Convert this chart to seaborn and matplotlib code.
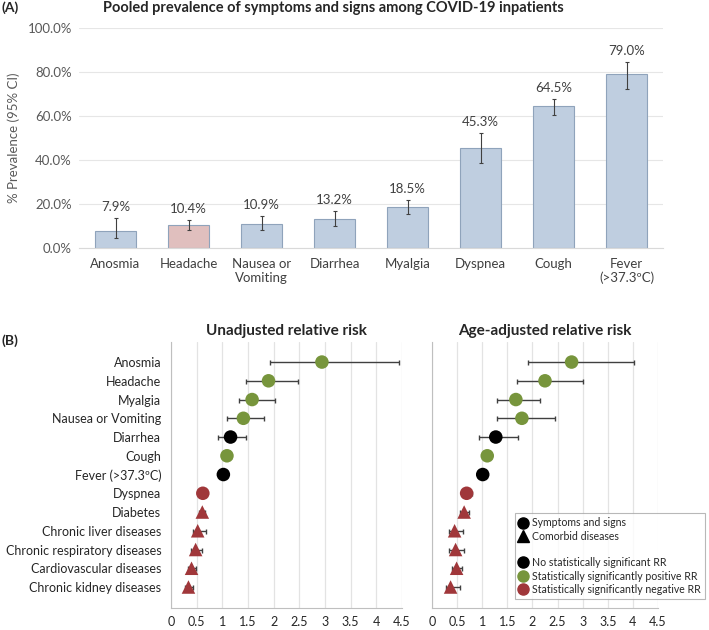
import numpy as np
import pandas as pd
import matplotlib
matplotlib.use('Agg')
import matplotlib.pyplot as plt
from matplotlib.lines import Line2D
import seaborn as sns

# ---- panel A data
sympt = ['Anosmia', 'Headache', 'Nausea or\nVomiting', 'Diarrhea', 'Myalgia',
         'Dyspnea', 'Cough', 'Fever\n(>37.3ºC)']
prev = [7.9, 10.4, 10.9, 13.2, 18.5, 45.3, 64.5, 79.0]
prev_lo = [4.4, 8.0, 8.0, 10.2, 15.5, 38.5, 60.6, 72.4]
prev_hi = [13.8, 12.9, 14.4, 16.7, 22.0, 52.3, 67.9, 84.7]
bar_cols = ['#B9CDE5', '#E6B9B8', '#B9CDE5', '#B9CDE5', '#B9CDE5',
            '#B9CDE5', '#B9CDE5', '#B9CDE5']

# ---- panel B data
rr_names = ['Anosmia', 'Headache', 'Myalgia', 'Nausea or Vomiting', 'Diarrhea', 'Cough',
            'Fever (>37.3ºC)', 'Dyspnea', 'Diabetes', 'Chronic liver diseases',
            'Chronic respiratory diseases', 'Cardiovascular diseases', 'Chronic kidney diseases']
kind = ['sym'] * 8 + ['com'] * 5
signif = ['pos', 'pos', 'pos', 'pos', 'ns', 'pos', 'ns', 'neg',
          'neg', 'neg', 'neg', 'neg', 'neg']
rr_un = [2.94, 1.90, 1.58, 1.41, 1.16, 1.09, 1.02, 0.62, 0.61, 0.52, 0.48, 0.40, 0.34]
rr_un_lo = [1.93, 1.46, 1.33, 1.09, 0.91, 1.02, 0.97, 0.57, 0.55, 0.42, 0.38, 0.33, 0.27]
rr_un_hi = [4.45, 2.47, 2.03, 1.82, 1.46, 1.16, 1.07, 0.67, 0.67, 0.68, 0.60, 0.48, 0.43]
rr_adj = [2.78, 2.25, 1.67, 1.79, 1.27, 1.10, 1.01, 0.69, 0.64, 0.45, 0.47, 0.49, 0.37]
rr_adj_lo = [1.92, 1.69, 1.30, 1.30, 0.94, 1.03, 0.95, 0.60, 0.55, 0.34, 0.34, 0.39, 0.27]
rr_adj_hi = [4.03, 3.00, 2.15, 2.45, 1.71, 1.17, 1.08, 0.80, 0.73, 0.62, 0.64, 0.60, 0.55]

col_map = {'ns': '#000000', 'pos': '#77953C', 'neg': '#A0373A'}
mark_map = {'sym': 'o', 'com': '^'}

sns.set_style('white')
plt.rcParams['font.family'] = ['Lato', 'DejaVu Sans']

fig = plt.figure(figsize=(7.09, 6.30), dpi=100)
W, H = 709, 630


def box(x0, y0, x1, y1):
    return [x0 / W, 1 - y1 / H, (x1 - x0) / W, (y1 - y0) / H]


# ---------------- panel A
axA = fig.add_axes(box(79, 28, 663, 248))
dfA = pd.DataFrame({'sym': sympt, 'prev': prev})
sns.barplot(data=dfA, x='sym', y='prev', hue='sym', palette=bar_cols, legend=False,
            width=0.57, edgecolor='#8FA3BB', linewidth=0.8, ax=axA, zorder=2)
xs = np.arange(len(sympt))
axA.errorbar(xs, prev, yerr=[np.array(prev) - np.array(prev_lo), np.array(prev_hi) - np.array(prev)],
             fmt='none', ecolor='#404040', elinewidth=0.8, capsize=1.5, capthick=0.8, zorder=3)
for x, v, h in zip(xs, prev, prev_hi):
    axA.text(x, h + 2.3, f'{v:.1f}%', ha='center', va='bottom', fontsize=9.5, color='#404040')
axA.set_ylim(0, 100)
axA.set_xlim(-0.5, len(sympt) - 0.5)
axA.set_yticks(np.arange(0, 101, 20))
axA.set_yticklabels([f'{t:.1f}%' for t in np.arange(0, 101, 20)], fontsize=9.5, color='#595959')
axA.tick_params(axis='x', labelsize=9.5, labelcolor='#404040', length=0, pad=7)
axA.tick_params(axis='y', length=0, pad=5)
axA.set_xlabel('')
axA.set_ylabel('')
axA.grid(axis='y', color='#E6E6E6', lw=0.8, zorder=0)
for s in ['top', 'right', 'left']:
    axA.spines[s].set_visible(False)
axA.spines['bottom'].set_color('#D9D9D9')
fig.text(14 / W, 1 - 138 / H, '% Prevalence (95% CI)', rotation=90, ha='center', va='center',
         fontsize=9.5, color='#595959')
fig.text(2 / W, 1 - 8 / H, '(A)', fontsize=10, fontweight='bold', va='center', ha='left')
fig.text(333 / W, 1 - 8 / H, 'Pooled prevalence of symptoms and signs among COVID-19 inpatients',
         fontsize=10.5, fontweight='bold', va='center', ha='center', color='#262626')

# ---------------- panel B
ypos = np.arange(len(rr_names))
dfB = pd.DataFrame({'name': rr_names, 'pos': ypos, 'kind': kind, 'sig': signif,
                    'un': rr_un, 'un_lo': rr_un_lo, 'un_hi': rr_un_hi,
                    'adj': rr_adj, 'adj_lo': rr_adj_lo, 'adj_hi': rr_adj_hi})

axL = fig.add_axes(box(171, 342, 402, 608))
axR = fig.add_axes(box(432, 342, 658, 608))
for ax, col, ttl in [(axL, 'un', 'Unadjusted relative risk'), (axR, 'adj', 'Age-adjusted relative risk')]:
    ax.errorbar(dfB[col], dfB['pos'], xerr=[dfB[col] - dfB[col + '_lo'], dfB[col + '_hi'] - dfB[col]],
                fmt='none', ecolor='#404040', elinewidth=1.0, capsize=1.8, capthick=1.0, zorder=2)
    sns.scatterplot(data=dfB, x=col, y='pos', hue='sig', style='kind', palette=col_map,
                    markers=mark_map, s=95, linewidth=0, legend=False, ax=ax, zorder=3)
    ax.set_xlim(0, 4.5)
    ax.set_ylim(13.12, -1.07)
    ax.set_xticks(np.arange(0, 4.51, 0.5))
    ax.set_xticklabels(['0', '0.5', '1', '1.5', '2', '2.5', '3', '3.5', '4', '4.5'])
    ax.set_yticks(ypos)
    ax.grid(axis='x', color='#E3E3E3', lw=0.9, zorder=0)
    ax.set_xlabel('')
    ax.set_ylabel('')
    for s in ['top', 'right']:
        ax.spines[s].set_visible(False)
    for s in ['left', 'bottom']:
        ax.spines[s].set_color('#BFBFBF')
        ax.spines[s].set_linewidth(0.8)
    ax.tick_params(axis='x', direction='inout', length=5, color='#BFBFBF', labelsize=9,
                   labelcolor='#262626', pad=3)
    ax.tick_params(axis='y', direction='out', length=4, color='#BFBFBF', labelsize=9,
                   labelcolor='#262626', pad=3)
    ax.set_title(ttl, fontsize=11, fontweight='bold', color='#262626', pad=5)
axL.set_yticklabels(rr_names)
axR.set_yticklabels([])
fig.text(2 / W, 1 - 341 / H, '(B)', fontsize=10, fontweight='bold', va='center', ha='left')

handles = [
    Line2D([], [], ls='none', marker='o', color='black', markersize=8),
    Line2D([], [], ls='none', marker='^', color='black', markersize=8),
    Line2D([], [], ls='none', marker=None),
    Line2D([], [], ls='none', marker='o', color=col_map['ns'], markersize=8),
    Line2D([], [], ls='none', marker='o', color=col_map['pos'], markersize=8),
    Line2D([], [], ls='none', marker='o', color=col_map['neg'], markersize=8),
]
labels = ['Symptoms and signs', 'Comorbid diseases', '', 'No statistically significant RR',
          'Statistically significantly positive RR', 'Statistically significantly negative RR']
leg = fig.legend(handles, labels, loc='upper left', bbox_to_anchor=(515 / W, 1 - 513 / H),
                 fontsize=7.6, frameon=True, fancybox=False, edgecolor='#A6A6A6',
                 handlelength=0.8, handletextpad=0.4, labelspacing=0.22, borderpad=0.4,
                 borderaxespad=0)
leg.get_frame().set_linewidth(0.8)
for t in leg.get_texts():
    t.set_color('#262626')

fig.savefig('out.png', dpi=100)
